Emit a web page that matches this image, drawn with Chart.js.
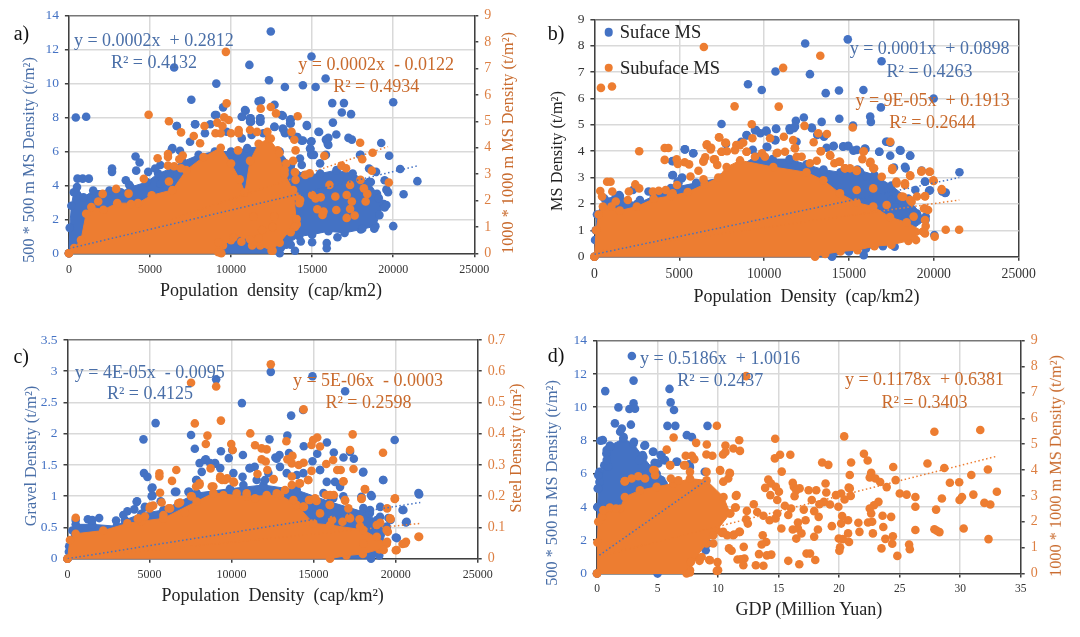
<!DOCTYPE html>
<html>
<head>
<meta charset="utf-8">
<title>MS density scatter panels</title>
<script src="https://cdn.jsdelivr.net/npm/chart.js@4"></script>
<style>
    body { margin: 0; background: #fff; }
    #page { position: relative; width: 1080px; height: 637px; overflow: hidden; font-family: "Liberation Serif", serif; }
    canvas { position: absolute; }
    .txt { position: absolute; white-space: pre; line-height: 1; }
    .dot { position: absolute; width: 8.6px; height: 8.6px; border-radius: 50%; transform: translate(-50%, -50%); }
</style>
</head>
<body>
<div id="page"></div>
<script>
// Values are [x, y] pairs. "Top" and "Bottom" trace the edge of the solid
// part of each cloud, where single points cannot be told apart.

// a) population density against MS density, blue on the left axis, orange on the right axis
const aBlueTop = [[0,0],[50,1.5],[150,2.8],[300,3.6],[500,3.9],[900,3.3],[1500,3.7],[2500,3.7],[3200,3.6],[3800,3.9],[4800,4.2],[5500,4.7],[6300,5],[7000,5.4],[8000,5.8],[9000,6],[10000,6],[11000,6.2],[12000,6.3],[13000,6],[13700,5.2],[14500,4.6],[15500,4.7],[16500,4.9],[17500,4.7],[18500,4.2],[19000,3.5],[19400,2.9]];
const aBlueBottom = [[0,0],[13000,0],[13400,0.5],[14200,1],[15000,1.1],[16000,1.3],[17000,1.2],[18000,1.4],[18900,1.6],[19400,2.9]];
const aBluePoints = [[12450,13.07],[14960,11.6],[6490,10.95],[11130,11.1],[12340,10.2],[9090,10],[13320,9.8],[14430,9.9],[15215,9.8],[15830,10.3],[7550,9.05],[11700,8.95],[11850,9],[12680,8.75],[16240,8.85],[16960,8.85],[20000,8.9],[425,8],[1064,8.05],[9510,8.6],[9090,8.15],[10900,8.4],[10680,8.05],[11210,7.95],[11810,7.95],[11230,7.75],[11810,7.75],[13190,8.1],[13680,7.9],[13680,7.65],[16830,8.3],[17400,8.2],[16280,7.7],[14680,7.5],[6660,7.5],[7790,7.6],[8720,7.6],[12680,7.45],[13190,7.35],[13320,7.1],[15430,7.15],[16490,7],[13790,6.9],[14090,6.85],[14430,6.65],[14960,6.6],[15850,6.7],[16000,6.8],[17240,6.8],[17450,6.7],[15960,6.45],[19260,6.5],[14900,6.15],[14940,5.85],[15110,5.8],[15850,5.8],[19750,5.75],[17980,5.8],[6380,6.2],[4110,5.7],[4360,5.35],[2660,5],[2660,4.8],[4150,4.87],[4890,4.8],[5640,5.2],[5320,5],[6170,4.6],[5640,4.1],[20430,4.97],[21490,4.25],[20640,3.48],[20000,1.6],[19470,4.3],[19580,3.75],[19680,3.6],[18940,4.8],[18620,4.2],[18510,5],[19580,2.85],[19470,2.7],[19110,3.25],[19150,2.25],[18830,1.45],[18090,1.45],[14300,0.7],[15000,0.65],[15900,0.6],[15900,0.3],[13680,0.5],[13940,0.15],[13090,0.35],[16560,0.95],[530,4.4],[850,4.4],[1230,4.4],[3510,4.3],[3720,4.03],[9010,8.15],[10860,8.44],[10660,8.05],[11170,7.95],[11170,7.75],[11790,7.95],[11790,7.75],[13120,8.15],[13640,7.85],[13640,7.65],[6650,7.5],[7780,7.6],[8390,7.07],[9730,7.16],[12670,7.46],[13230,7.3],[13330,7.07],[13950,6.87],[14670,7.56],[15390,7.16],[14360,6.63],[14930,6.57],[15900,6.67],[16000,6.38],[7470,6.57],[6340,6.12],[6850,6.04],[10660,6.77],[11270,6.97],[11990,7.07],[14870,6.18],[14970,5.79],[14250,5.59],[14360,5.2],[15490,5.3],[17950,5.79]];
const aBlueTrend = [[0,0.28],[21490,5.15]];
const aOrangeTop = [[0,0],[320,0.2],[745,0.5],[1064,1.5],[1383,1.75],[2128,1.65],[2980,1.9],[4256,1.9],[5107,2.2],[6384,2.4],[7235,3.15],[8300,3.65],[9363,4],[10000,3.4],[10534,2.8],[10850,2.3],[11170,3.5],[11700,4.15],[12340,4.35],[12875,3.9],[13300,3],[13830,2.4],[14045,1.1]];
const aOrangeBottom = [[0,0],[9400,0],[9500,0.3],[10000,0.5],[10800,0.7],[11300,0.3],[11800,0.3],[12500,0.1],[13000,0.4],[13800,1],[14045,1.1]];
const aOrangePoints = [[9680,7.63],[4915,5.25],[6170,5],[9725,5.68],[11830,5.48],[12450,5.54],[12770,5.3],[14110,5.19],[9150,4.95],[9575,5.15],[9850,5.05],[9470,4.82],[8360,4.82],[6915,4.58],[7700,4.44],[8090,4.17],[9040,4.55],[9360,4.55],[10000,4.55],[10470,4.67],[10470,4.55],[11170,4.67],[11600,4.6],[12240,4.6],[12450,4.35],[13730,4.6],[13900,4.3],[13980,3.9],[10430,3.9],[12980,3.8],[5470,3.6],[6110,3.76],[6110,3.65],[7020,3.7],[6810,3.56],[6110,3.32],[6490,3.3],[6915,3.22],[2915,2.44],[3680,2.26],[4620,2.82],[6170,2.72],[2085,2.25],[1810,1.96],[3830,1.87],[13400,3.4],[13830,3.5],[13300,3.15],[13940,3.07],[13980,2.78],[14045,2.15],[14260,2.02],[14215,1.9],[14580,2.97],[14850,3.03],[15750,3.69],[17960,4.19],[18730,3.81],[18090,3.56],[16810,3.32],[17090,3.22],[18680,3.13],[19730,2.68],[17980,2.78],[17340,2.59],[18190,2.46],[18400,2.25],[18300,1.96],[16070,2.59],[15000,2.21],[15215,2.08],[15530,2.12],[16430,2.15],[17130,2.21],[17450,1.96],[17340,1.68],[16490,1.64],[15320,1.67],[15700,1.58],[15640,1.45],[17130,1.34],[17620,1.43],[14045,1.3],[13940,1],[13680,0.8],[9215,0.04],[9215,0.42],[10150,0.6],[10640,0.44],[11170,0.53],[11700,0.57],[12560,0.1],[11920,0.88],[11385,1.39],[12560,1],[12660,1.39]];
const aOrangeTrend = [[0,0],[19680,4.04]];

// b) population density against surface and subsurface MS density
const bBlueTop = [[0,0],[150,1.6],[600,2.2],[1500,2.3],[2500,2],[3500,2.3],[4500,2.6],[6000,2.8],[7500,3],[8500,3.4],[9500,3.8],[10500,3.7],[11500,3.7],[12500,3.5],[13500,3.3],[14500,3.2],[15500,3.3],[16500,3.1],[17500,2.7],[18500,2.2],[19500,1.4]];
const bBlueBottom = [[0,0],[14000,0],[15000,0.2],[16000,0.3],[17000,0.4],[18000,0.7],[19500,1.4]];
const bBluePoints = [[12420,8.08],[14930,8.24],[16920,7.41],[10670,7.02],[12700,6.92],[9050,6.54],[9860,6.32],[13630,6.2],[14410,6.3],[15850,6.32],[19990,6],[16880,5.66],[16250,5.31],[16290,5.11],[14430,5.23],[12340,5.28],[13390,5.11],[11870,5.15],[15240,4.97],[7490,5.03],[11500,4.87],[11750,4.87],[12820,4.87],[10710,4.84],[9520,4.8],[10120,4.78],[9780,4.68],[8970,4.6],[13130,4.62],[13530,4.55],[10670,4.42],[11910,4.36],[8660,4.36],[7750,4.27],[17190,4.36],[17430,4.32],[18040,4.02],[18610,3.83],[17430,3.83],[16780,3.98],[15970,4.08],[15460,4.05],[14950,4.2],[14650,4.17],[14100,4.2],[13680,4.13],[10190,4.16],[9330,4.05],[5820,3.92],[5320,4.07],[4610,3.63],[4630,3.1],[5170,3],[4910,2.85],[17650,3.38],[18340,3.35],[19280,3.27],[21510,3.2],[19480,2.85],[19720,2.5],[20490,2.47],[20700,2.43],[20030,0.82],[19520,1.52],[15870,0.06],[13940,0.06],[17690,0.38],[2680,2.15],[1460,2.34],[2270,2.53],[1260,2.28],[80,1],[40,0.63],[3190,2.47],[17490,2.15],[18710,1.52],[19010,1.64],[18910,2.53],[5340,4.07],[5830,3.92],[4590,3.62],[4590,3.09],[5140,2.97],[4950,2.78],[8970,4.61],[9460,4.8],[10150,4.74],[10700,4.86],[10640,4.42],[10150,4.17],[11520,4.8],[11820,4.93],[12800,4.9],[14080,4.19],[14670,4.19],[14960,4.19],[15260,4.02],[15940,4.1],[16790,3.98],[17260,4.36],[18000,4.04],[18600,3.83],[18300,3.41],[19480,2.84],[19770,2.52],[20660,2.42],[18890,1.64],[15650,3.22],[16040,3.03],[18000,2.15]];
const bBlueTrend = [[0,0.09],[21500,3]];
const bOrangeTop = [[0,0],[100,1],[250,1.6],[500,1.9],[1000,1.9],[1500,1.75],[2500,1.9],[3500,2.2],[4500,2.3],[5500,2.45],[6500,2.75],[7300,3],[7790,3.4],[8580,3.65],[10540,3.4],[12500,3.2],[13490,2.9],[14470,2.4],[15450,2.05],[16430,1.9],[17420,1.5],[18400,1.3],[19380,0.95]];
const bOrangeBottom = [[0,0],[13000,0],[13600,0.1],[14500,0.2],[15500,0.25],[16500,0.4],[17500,0.45],[18500,0.6],[19380,0.95]];
const bOrangePoints = [[6450,7.95],[13310,7.62],[11120,7.16],[385,6.4],[1035,6.45],[8260,5.7],[10860,5.69],[9270,5.02],[12380,4.96],[15220,4.9],[7340,4.53],[9310,4.49],[10350,4.49],[11160,4.55],[13190,4.68],[13700,4.65],[11710,4.42],[12920,4.34],[17430,4.36],[7710,4.32],[8770,4.32],[8360,4.23],[6630,4.26],[6880,4.13],[4140,4.12],[4360,4.12],[2640,4],[7490,3.98],[7810,4],[8970,3.98],[9880,3.92],[10790,3.94],[11810,4.11],[12210,3.79],[13330,4],[13900,3.83],[15870,4],[15790,3.7],[4140,3.67],[4850,3.69],[4910,3.52],[5320,3.58],[5580,3.5],[6430,3.64],[6530,3.77],[7040,3.69],[7240,3.48],[14140,3.54],[14410,3.6],[14750,3.35],[15060,3.35],[15460,3.25],[16270,3.6],[16480,3.35],[17550,3.29],[18610,3.06],[19260,3.22],[19740,3.22],[19990,2.87],[20470,2.53],[20700,1.02],[21490,1.02],[20050,0.76],[17790,2.85],[18300,2.72],[18100,2.28],[18610,2.15],[19010,2.28],[19480,2.28],[19420,1.83],[19660,1.77],[19520,1.16],[19480,0.88],[18950,0.63],[18810,1.52],[345,2.49],[450,2.28],[750,2.84],[950,2.84],[1055,2.47],[2030,2.47],[2410,2.74],[2640,2.59],[1970,2.15],[1260,2.09],[3450,2.47],[3790,2.5],[4200,2.53],[4610,2.4],[4870,2.72],[5660,3.04],[6130,3.26],[6430,2.93],[6615,4.23],[6850,4.07],[6420,3.6],[7360,4.52],[7750,4.32],[7500,3.98],[7100,3.69],[8580,4.23],[8280,4.04],[8970,3.98],[9460,3.79],[10050,3.79],[10740,3.92],[11230,3.98],[11820,4.11],[11920,3.79],[13350,4],[13880,3.85],[12700,3.54],[13100,3.64],[14470,3.6],[14770,3.35],[15450,3.28],[15850,3.98],[16240,3.54],[16430,3.35],[16930,3.03],[17550,3.35],[17810,2.78],[18300,2.78],[18600,3.09],[19280,3.26],[19770,3.22],[19970,2.9],[20460,2.56],[15450,2.53],[16430,2.59],[17220,1.96],[18200,2.27],[18690,2.08],[19480,2.3],[19480,1.83],[19480,1.39]];
const bOrangeTrend = [[0,0.19],[21500,2.15]];

// c) population density against gravel (left axis) and steel (right axis) density
const cBlueTop = [[0,0],[100,0.2],[300,0.45],[500,0.55],[1500,0.55],[3000,0.52],[3500,0.62],[4500,0.72],[5840,0.78],[7870,1.05],[9900,1.12],[11940,1.18],[13970,1.1],[16000,0.91],[18030,0.75],[19450,0.51]];
const cBlueBottom = [[0,0],[18500,0],[19000,0.05],[19450,0.51]];
const cBluePoints = [[12390,2.99],[14930,2.92],[9060,2.87],[16920,2.68],[10630,2.49],[14360,2.38],[13630,2.29],[5370,2.17],[4630,1.91],[7530,1.98],[12310,1.91],[13400,1.97],[19940,1.9],[15810,1.86],[14400,1.8],[7760,1.76],[9350,1.72],[10040,1.74],[9830,1.61],[10690,1.66],[8430,1.59],[13500,1.69],[15220,1.68],[16230,1.7],[17220,1.71],[17450,1.6],[16820,1.62],[12670,1.62],[12920,1.66],[14930,1.56],[9000,1.52],[18010,1.38],[19230,1.26],[15390,1.42],[4660,1.37],[4870,1.31],[5180,1.14],[5180,1.01],[5680,0.92],[4720,0.82],[4240,0.92],[6630,1.07],[7420,1.07],[21430,1.03],[18500,1.02],[19060,0.83],[20420,0.78],[20630,0.58],[20010,0.34],[19690,0.62],[10670,1.31],[11410,1.47],[11090,1.45],[9310,1.45],[8050,1.53],[17910,0.99],[7840,1.26],[3400,0.7],[3650,0.76],[4070,0.79],[500,0.62],[1240,0.63],[1510,0.62],[1930,0.65],[2960,0.61],[250,0.3],[85,0.11],[18850,0.62],[18430,0.73],[4215,0.91],[4720,0.83],[5130,1.13],[5130,1],[6550,1.07],[7370,1.07],[6550,0.78],[7870,1.26],[8380,1.58],[8180,1.39],[8990,1.53],[8690,1.53],[10110,1.37],[10720,1.18],[11120,1.45],[11530,1.26],[12040,1.26],[12240,1.37],[12750,1.6],[12950,1.47],[13360,1.37],[13970,1.34],[14375,1.37],[15390,1.42],[15800,1.23],[16300,1.23],[16610,1.15],[16810,1],[16200,0.97],[15600,1.05],[18030,1.39],[19250,1.26],[18540,1],[18030,0.81],[18440,0.78],[19050,0.67],[20470,0.78],[20670,0.59],[20070,0.33],[19560,0.65],[21390,1.05]];
const cBlueTrend = [[0,0],[21500,0.9]];
const cOrangeTop = [[0,0],[150,0.06],[500,0.08],[2180,0.09],[3650,0.113],[4500,0.12],[5840,0.129],[7870,0.183],[8890,0.21],[10920,0.199],[12950,0.204],[13970,0.172],[14985,0.113],[16000,0.108],[18030,0.092],[19450,0.049]];
const cOrangeBottom = [[0,0],[16000,0],[17000,0.01],[18000,0.015],[19000,0.03],[19450,0.049]];
const cOrangePoints = [[12390,0.622],[7530,0.563],[9060,0.551],[14390,0.478],[9350,0.442],[7760,0.433],[8530,0.394],[11140,0.401],[17380,0.398],[13340,0.376],[8430,0.367],[9980,0.367],[11430,0.363],[14870,0.364],[14970,0.38],[15220,0.388],[15390,0.359],[11830,0.353],[12140,0.35],[10070,0.348],[17220,0.348],[19230,0.339],[11830,0.318],[12080,0.311],[13710,0.329],[13400,0.318],[13670,0.305],[14390,0.307],[14090,0.3],[15770,0.303],[16190,0.316],[8720,0.289],[14870,0.281],[5600,0.273],[5600,0.263],[6630,0.284],[6370,0.249],[17430,0.287],[16440,0.284],[16650,0.284],[12180,0.284],[11580,0.271],[9310,0.263],[9420,0.252],[9730,0.257],[10150,0.244],[12560,0.255],[13670,0.263],[14660,0.252],[16820,0.248],[7840,0.231],[8050,0.241],[8890,0.231],[13670,0.236],[14130,0.241],[18120,0.223],[5640,0.211],[15750,0.204],[16230,0.204],[17910,0.191],[19940,0.191],[16920,0.186],[14720,0.188],[15180,0.185],[15980,0.172],[14410,0.166],[19480,0.161],[5220,0.17],[5010,0.161],[5850,0.14],[6170,0.161],[6750,0.177],[4280,0.127],[7150,0.147],[7530,0.2],[500,0.131],[19690,0.127],[19060,0.115],[17170,0.132],[16760,0.118],[17800,0.126],[16130,0.124],[15390,0.145],[21430,0.07],[20630,0.054],[20420,0.047],[20010,0.027],[19270,0.028],[19520,0.086],[19480,0.054],[5030,0.167],[5740,0.18],[6860,0.18],[7570,0.2],[8040,0.236],[8790,0.231],[9500,0.204],[10310,0.209],[10920,0.209],[11430,0.193],[12140,0.204],[12750,0.209],[13260,0.22],[13770,0.188],[14375,0.167],[14780,0.188],[15090,0.193],[15800,0.204],[16000,0.204],[16000,0.172],[16910,0.188],[17930,0.193],[17120,0.161],[17220,0.129],[17830,0.103],[18850,0.108],[19660,0.129],[19450,0.092],[18850,0.07],[18030,0.049],[19960,0.193],[20060,0.028],[20570,0.049],[21390,0.07],[4320,0.129],[4720,0.135],[6250,0.161],[9300,0.257],[9600,0.252],[10110,0.247],[12550,0.254],[14170,0.241],[14680,0.252],[16810,0.247],[18140,0.222]];
const cOrangeTrend = [[0,0],[21500,0.113]];

// d) GDP against MS density, blue on the left axis, orange on the right axis
const dBlueTop = [[0,0],[0.03,4],[0.2,5.5],[0.6,6.5],[1.07,7.7],[2.17,8.1],[3,7.8],[3.83,7],[4.93,6],[5.5,5.4],[7,5.2],[8.2,5.4],[9,5.5]];
const dBlueBottom = [[0,0],[5,0],[7,0.5],[8,1],[8.8,1.8],[9,5.5]];
const dBluePoints = [[2.88,13.08],[3.02,11.6],[0.68,10.97],[5.99,11.1],[6.08,10.29],[3.02,10.23],[1.77,9.99],[2.68,9.89],[3.14,9.91],[6.36,9.83],[1.48,9.03],[2.8,8.95],[5.82,8.88],[6.47,8.88],[9.13,8.88],[2.05,8.72],[1.91,8.52],[7.42,8.32],[7.84,8.2],[0.29,7.98],[0.48,8.02],[2.2,8.2],[3.05,7.92],[3.91,7.68],[1.06,7.62],[4.62,7.32],[0.77,7.22],[5.25,7.12],[3.77,7.12],[5.56,6.82],[4.76,6.66],[3.48,6.82],[6.56,6.72],[7.62,6.56],[4.56,6.32],[0.91,6.42],[0.2,6.12],[4.05,5.92],[5.19,5.66],[0.06,5.11],[0.06,4],[8.9,6.12],[9.1,2.31],[9.18,1.8],[8.98,1.4],[8.19,1.44],[4.66,7.32],[5.33,7.12],[6.63,6.72],[5.07,6.62],[5.62,6.82],[4.52,6.1],[3.83,5.71],[5.33,5.61],[3.97,7.72],[7.68,6.41],[0.8,6.82],[0.8,7.42],[1.07,7.62],[0.1,5.91],[0.1,5.11]];
const dBlueTrend = [[0.2,1.1],[9.04,5.6]];
const dOrangeTop = [[0,0],[0.03,1.2],[0.1,2],[0.4,2.2],[1,2.5],[1.9,2.5],[2.3,2.96],[3.55,3.22],[4.93,3.35],[6.3,3.48],[7.68,3.67],[9.05,3.6],[10.45,2.96],[11,2.32]];
const dOrangeBottom = [[0,0],[7.4,0],[7.68,0.13],[8.2,0.64],[9.05,1.16],[9.9,1.67],[11,2.32]];
const dOrangePoints = [[12.32,7.63],[31.66,5.55],[27.87,5.48],[9.9,5.71],[6.33,5.26],[14.72,5.21],[20.42,5.3],[11.75,5.15],[10.61,4.95],[8.19,5.05],[9.07,4.99],[5.76,4.79],[11.27,4.83],[11.81,4.74],[10.61,4.7],[10.41,4.6],[7.33,4.55],[7.84,4.55],[8.04,4.42],[9.04,4.6],[9.53,4.55],[15.12,4.59],[14.69,4.45],[15.97,4.59],[22.05,4.63],[22.36,4.37],[18.6,4.29],[19.11,4.2],[20.99,4.29],[27.3,4.25],[24.47,4.12],[28.69,4.08],[6.05,4.18],[7.19,4.18],[4.76,3.99],[15.26,3.94],[10.18,3.97],[32.29,4.02],[30.92,3.81],[20.88,3.81],[22.65,3.89],[22.53,3.71],[23,3.67],[10.95,3.89],[10.84,3.67],[14.15,3.63],[24.67,3.61],[23.39,3.54],[14.38,3.48],[16.17,3.51],[16.26,3.35],[18.88,3.48],[29.15,3.51],[29.92,3.53],[23.93,3.34],[13.89,3.31],[14.77,3.35],[15.03,3.16],[16.74,3.29],[16.46,3.22],[17.48,3.22],[18.11,3.22],[20.79,3.32],[20.88,3.29],[33.03,3.16],[18.94,3.13],[14.32,3.03],[11.47,3],[16.32,2.99],[25.01,3.09],[25.58,3.05],[31.09,3.05],[20.17,3.09],[19.74,3.03],[20.96,3],[26.3,2.96],[30.15,2.96],[28.49,2.9],[29.95,2.84],[14.89,2.84],[20.45,2.86],[17.74,2.84],[18.74,2.77],[18.37,2.68],[19.25,2.67],[12.95,2.68],[19.94,2.58],[23.25,2.77],[22.88,2.64],[32,2.73],[32.49,2.67],[15.52,2.62],[16.03,2.51],[11.41,2.55],[26.3,2.58],[28.01,2.47],[22.53,2.51],[17.08,2.47],[12.38,2.42],[13.23,2.38],[17.94,2.41],[14.89,2.32],[13.75,2.23],[15.8,2.26],[20.25,2.22],[18.31,2.19],[23.59,2.23],[24.3,2.19],[22.65,2.32],[12.32,2.1],[14.26,2.06],[14.75,2.13],[17.23,2.06],[16.6,1.97],[20.74,2.06],[21.59,1.96],[20.17,1.93],[22.39,1.97],[22.73,2],[12.46,1.93],[19.4,1.83],[15.23,1.74],[16.17,1.7],[18.25,1.7],[16.6,1.74],[23.65,1.8],[30.29,1.74],[26.3,1.68],[27.87,1.71],[28.07,1.65],[28.29,1.6],[20.74,1.55],[21.68,1.61],[22.79,1.55],[16.89,1.55],[10.33,1.57],[10.75,1.48],[11.75,1.61],[11.32,1.51],[13.69,1.48],[24.44,1.44],[17.94,1.42],[23.82,1.34],[19.97,1.35],[20.31,1.33],[32.34,1.33],[16.46,1.35],[20.82,1.22],[13.98,1.22],[13.6,1.12],[24.39,1.15],[25.78,1.12],[25.84,0.94],[23.5,0.97],[12.12,1.03],[10.9,0.97],[11.12,0.88],[20.08,1.01],[20.02,0.88],[24.81,0.68],[13.38,0.75],[14.03,0.7],[14.4,0.73],[17.31,0.77],[17.6,0.77],[15.8,0.49],[18.03,0.52],[11.61,0.54],[12.18,0.58],[11.89,0.55],[9.95,0.44],[12.09,0.32],[13.12,0.32],[13.75,0.3],[16.71,0.36],[9.9,0.1],[7.67,0.04],[9.27,0.52],[8.47,0.49],[7.76,0.45],[9.61,1.48],[2.28,3.56],[2.31,3.57],[2.86,3.67],[3.41,3.76],[3.97,3.67],[4.66,4],[4.8,3.8],[6.1,3.67],[6.72,3.6],[7.68,3.93],[9.05,3.93],[6.03,4.19],[7.27,4.19],[10.16,4],[10.98,3.87],[10.43,3.55],[11.53,3.03],[11.46,2.55],[0.52,2.45],[1.07,2.55],[1.57,2.51],[9.6,1.16],[8.65,0.64],[9.33,0.51],[10,0.13],[10.43,1.61],[11.25,1.48],[11.8,1.61]];
const dOrangeTrend = [[0.1,0.65],[33,4.53]];

const BLUE = '#4472C4';
const ORANGE = '#ED7D31';
const BLUE_TEXT = '#4a6fa8';
const ORANGE_TEXT = '#c96a2c';
const GRID = '#d9d9d9';
const AXIS = '#404040';
const FONT = '"Liberation Serif", serif';
const POINT_R = 4.3;

const page = document.getElementById('page');

function addText(text, cx, cy, size, color, rotate) {
    const el = document.createElement('div');
    el.className = 'txt';
    el.textContent = text;
    el.style.left = cx + 'px';
    el.style.top = cy + 'px';
    el.style.fontSize = size + 'px';
    el.style.color = color;
    el.style.transform = 'translate(-50%, -50%)' + (rotate ? ' rotate(-90deg)' : '');
    page.appendChild(el);
}

function addDot(cx, cy, color) {
    const el = document.createElement('div');
    el.className = 'dot';
    el.style.left = cx + 'px';
    el.style.top = cy + 'px';
    el.style.background = color;
    page.appendChild(el);
}

function xy(points) {
    return points.map(p => ({ x: p[0], y: p[1] }));
}

// The solid cloud: its edge points are markers too, the inside is filled down to the bottom edge
function cloudSets(top, bottom, color, axis, order) {
    const edge = {
        showLine: true, borderColor: color, backgroundColor: color, borderWidth: 1,
        pointRadius: POINT_R, pointBorderWidth: 0, yAxisID: axis, order: order, clip: false
    };
    return [
        { ...edge, data: xy(top), fill: { target: '+1' } },
        { ...edge, data: xy(bottom), fill: false }
    ];
}

function pointSet(points, color, axis, order) {
    return {
        data: xy(points), backgroundColor: color, borderColor: color,
        pointRadius: POINT_R, pointBorderWidth: 0, yAxisID: axis, order: order, clip: false
    };
}

function trendSet(points, color, axis, order) {
    return {
        data: xy(points), showLine: true, borderColor: color, borderWidth: 1.5, borderDash: [1.5, 2.5],
        pointRadius: 0, fill: false, yAxisID: axis, order: order
    };
}

function tickText(v) {
    return String(+v.toFixed(2));
}

function yScale(position, max, step, color, boxWidth, hasGrid, size) {
    return {
        type: 'linear', position: position, min: 0, max: max,
        afterFit: s => { s.width = boxWidth; },
        border: { color: AXIS, width: 1.5 },
        grid: {
            display: true, drawOnChartArea: hasGrid, drawTicks: true, tickLength: 4, tickColor: AXIS, lineWidth: 1.5,
            color: ctx => ctx.tick && ctx.tick.value === max ? '#777' : GRID
        },
        ticks: {
            stepSize: step, color: color, padding: 6, font: { family: FONT, size: size },
            callback: tickText, autoSkip: false
        }
    };
}

function makePanel(panel) {
    const canvas = document.createElement('canvas');
    const f = panel.frame;
    canvas.width = f[2];
    canvas.height = f[3];
    canvas.style.left = f[0] + 'px';
    canvas.style.top = f[1] + 'px';
    page.appendChild(canvas);

    const p = panel.plot;
    const scales = {
        x: {
            type: 'linear', min: 0, max: panel.xMax,
            afterFit: s => { s.height = f[1] + f[3] - p.bottom; },
            border: { color: AXIS, width: 1.5 },
            grid: {
                drawTicks: true, tickLength: 4, tickColor: AXIS, lineWidth: 1.5,
                color: ctx => ctx.tick && ctx.tick.value === panel.xMax && !panel.yr ? AXIS : GRID
            },
            ticks: {
                stepSize: panel.xStep, color: '#333', padding: 5, maxRotation: 0, autoSkip: false,
                font: { family: FONT, size: panel.xFont }, callback: tickText
            }
        },
        y: yScale('left', panel.yl[0], panel.yl[1], panel.ylColor, p.left - f[0], true, 13.5)
    };
    if (panel.yr) {
        scales.y1 = yScale('right', panel.yr[0], panel.yr[1], '#dd7f42', f[0] + f[2] - p.right, false, 14);
    }

    const orangeAxis = panel.yr ? 'y1' : 'y';
    new Chart(canvas, {
        type: 'scatter',
        data: {
            datasets: [
                ...cloudSets(panel.blue[0], panel.blue[1], BLUE, 'y', 6),
                pointSet(panel.blue[2], BLUE, 'y', 5),
                ...cloudSets(panel.orange[0], panel.orange[1], ORANGE, orangeAxis, 4),
                pointSet(panel.orange[2], ORANGE, orangeAxis, 3),
                trendSet(panel.orange[3], ORANGE, orangeAxis, 2),
                trendSet(panel.blue[3], BLUE, 'y', 1)
            ]
        },
        options: {
            responsive: false,
            animation: false,
            events: [],
            layout: {
                autoPadding: false,
                padding: { top: p.top - f[1], right: panel.yr ? 0 : f[0] + f[2] - p.right, left: 0, bottom: 0 }
            },
            plugins: {
                tooltip: { enabled: false },
                legend: { display: false }
            },
            scales: scales
        }
    });
}

makePanel({
    frame: [0, 0, 540, 310], plot: { left: 68.9, right: 474.3, top: 15.7, bottom: 253.3 },
    xMax: 25000, xStep: 5000, xFont: 12, yl: [14, 2], yr: [9, 1], ylColor: BLUE,
    blue: [aBlueTop, aBlueBottom, aBluePoints, aBlueTrend],
    orange: [aOrangeTop, aOrangeBottom, aOrangePoints, aOrangeTrend]
});
makePanel({
    frame: [540, 0, 540, 310], plot: { left: 594.4, right: 1018.7, top: 19.3, bottom: 256.7 },
    xMax: 25000, xStep: 5000, xFont: 13.7, yl: [9, 1], ylColor: '#333',
    blue: [bBlueTop, bBlueBottom, bBluePoints, bBlueTrend],
    orange: [bOrangeTop, bOrangeBottom, bOrangePoints, bOrangeTrend]
});
makePanel({
    frame: [0, 320, 540, 317], plot: { left: 67.5, right: 477.7, top: 340, bottom: 558.7 },
    xMax: 25000, xStep: 5000, xFont: 12, yl: [3.5, 0.5], yr: [0.7, 0.1], ylColor: BLUE,
    blue: [cBlueTop, cBlueBottom, cBluePoints, cBlueTrend],
    orange: [cOrangeTop, cOrangeBottom, cOrangePoints, cOrangeTrend]
});
makePanel({
    frame: [540, 320, 540, 317], plot: { left: 597, right: 1020.7, top: 340.7, bottom: 573.5 },
    xMax: 35, xStep: 5, xFont: 11.5, yl: [14, 2], yr: [9, 1], ylColor: BLUE,
    blue: [dBlueTop, dBlueBottom, dBluePoints, dBlueTrend],
    orange: [dOrangeTop, dOrangeBottom, dOrangePoints, dOrangeTrend]
});

// Legend of panel b
addDot(608.8, 32.3, BLUE);
addDot(608.8, 67.7, ORANGE);
addText('Suface MS', 660.5, 32.3, 18.5, '#222');
addText('Subuface MS', 670, 67.7, 18.5, '#222');

// Panel letters, axis titles and trend line equations
addText('a)', 21.5, 33, 20, '#111');
addText('b)', 556, 33, 20, '#111');
addText('c)', 21.2, 356, 20, '#111');
addText('d)', 556.2, 355, 20, '#111');

addText('Population  density  (cap/km2)', 271, 290, 18, '#222');
addText('Population  Density  (cap/km2)', 806.5, 296, 18, '#222');
addText('Population  Density  (cap/km\u00B2)', 272.6, 595, 18, '#222');
addText('GDP (Million Yuan)', 808.8, 609, 18, '#222');

addText('500 * 500 m MS Density (t/m\u00B2)', 28.6, 160, 16.3, BLUE_TEXT, true);
addText('1000 * 1000 m MS Density (t/m\u00B2)', 508, 142.5, 16.3, ORANGE_TEXT, true);
addText('MS Density (t/m\u00B2)', 557.2, 151, 16.3, '#222', true);
addText('Gravel Density (t/m\u00B2)', 31, 456, 16.3, BLUE_TEXT, true);
addText('Steel Density (t/m\u00B2)', 515.8, 448, 16.3, ORANGE_TEXT, true);
addText('500 * 500 m MS Density (t/m\u00B2)', 551.5, 483, 16.3, BLUE_TEXT, true);
addText('1000 * 1000 m MS Density (t/m\u00B2)', 1055.5, 466, 16.3, ORANGE_TEXT, true);

addText('y = 0.0002x  + 0.2812', 153.8, 40, 18, BLUE_TEXT);
addText('R\u00B2 = 0.4132', 154, 62, 18, BLUE_TEXT);
addText('y = 0.0002x  - 0.0122', 376.2, 64, 18, ORANGE_TEXT);
addText('R\u00B2 = 0.4934', 376.2, 86, 18, ORANGE_TEXT);
addText('y = 0.0001x  + 0.0898', 929.6, 48, 18, BLUE_TEXT);
addText('R\u00B2 = 0.4263', 929.6, 71, 18, BLUE_TEXT);
addText('y = 9E-05x  + 0.1913', 932.6, 100, 18, ORANGE_TEXT);
addText('R\u00B2 = 0.2644', 932.4, 122, 18, ORANGE_TEXT);
addText('y = 4E-05x  - 0.0095', 149.8, 372, 18, BLUE_TEXT);
addText('R\u00B2 = 0.4125', 150, 393, 18, BLUE_TEXT);
addText('y = 5E-06x  - 0.0003', 368, 380, 18, ORANGE_TEXT);
addText('R\u00B2 = 0.2598', 368.5, 402, 18, ORANGE_TEXT);
addText('y = 0.5186x  + 1.0016', 720, 358, 18, BLUE_TEXT);
addText('R\u00B2 = 0.2437', 720.3, 380, 18, BLUE_TEXT);
addText('y = 0.1178x  + 0.6381', 924.5, 379, 18, ORANGE_TEXT);
addText('R\u00B2 = 0.3403', 924.5, 402, 18, ORANGE_TEXT);
</script>
</body>
</html>
